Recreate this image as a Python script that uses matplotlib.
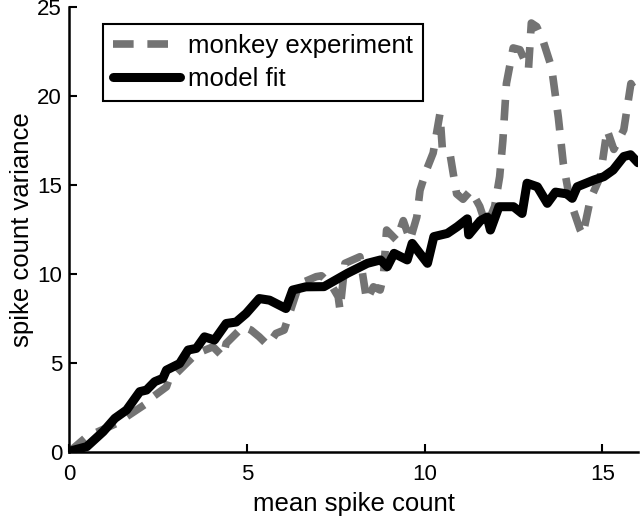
import matplotlib
matplotlib.use('Agg')
import matplotlib.pyplot as plt

# monkey experiment (gray dashed)
exp_x = [0, 0.5, 1.34, 2.18, 2.36, 2.74, 2.85, 3.02, 3.49, 3.67, 4.05, 4.33, 4.42,
         4.7, 4.89, 5.12, 5.35, 5.59, 5.82, 6.05, 6.2, 6.48, 6.66, 6.95, 7.1, 7.4,
         7.57, 7.62, 7.76, 8.18, 8.37, 8.56, 8.75, 8.84, 8.93, 9.21, 9.4, 9.59,
         9.78, 9.87, 10.05, 10.24, 10.43, 10.5, 10.71, 10.8, 10.9, 11.08, 11.3,
         11.55, 11.74, 11.97, 12.11, 12.2, 12.3, 12.49, 12.68, 12.92, 13.0, 13.15,
         13.33, 13.57, 13.76, 13.9, 14.08, 14.37, 14.45, 14.66, 14.94, 15.13,
         15.32, 15.6, 15.8, 16.0]
exp_y = [0, 0.86, 1.61, 2.73, 3.1, 3.66, 4.3, 4.42, 5.35, 5.6, 5.91, 5.35, 6.1,
         6.66, 7.04, 6.85, 6.47, 6.0, 6.66, 6.85, 7.78, 9.47, 9.6, 9.85, 9.9, 9.3,
         8.72, 7.98, 10.6, 10.97, 8.53, 9.28, 9.1, 9.85, 12.47, 11.9, 13.0, 11.9,
         13.2, 14.7, 15.84, 16.8, 19.0, 17.0, 16.8, 15.7, 14.5, 14.2, 14.7,
         13.8, 12.66, 13.8, 15.47, 17.5, 20.7, 22.7, 22.6, 21.5, 24.1, 23.9,
         23.1, 21.6, 18.8, 16.2, 14.2, 12.5, 12.2, 14.2, 15.47, 18.1,
         17.0, 18.1, 20.7, 20.0]

# model fit (black)
fit_x = [0, 0.12, 0.5, 0.96, 1.29, 1.62, 1.99, 2.18, 2.41, 2.64, 2.74, 3.11, 3.35,
         3.58, 3.81, 4.09, 4.42, 4.7, 4.98, 5.35, 5.64, 6.1, 6.29, 6.66, 7.17,
         7.83, 8.39, 8.76, 8.95, 9.14, 9.51, 9.65, 10.08, 10.26, 10.64, 10.92,
         11.2, 11.24, 11.57, 11.76, 11.85, 12.09, 12.5, 12.74, 12.88, 13.17, 13.45,
         13.68, 14.0, 14.15, 14.29, 14.76, 15.04, 15.3, 15.6, 15.79, 16.0]
fit_y = [0, 0.1, 0.3, 1.14, 1.89, 2.36, 3.39, 3.48, 3.95, 4.14, 4.6, 4.97, 5.73,
         5.82, 6.47, 6.29, 7.22, 7.3, 7.78, 8.62, 8.53, 8.06, 9.1, 9.28, 9.29,
         10.04, 10.6, 10.79, 10.41, 11.16, 10.79, 11.72, 10.6, 12.1, 12.28, 12.66,
         13.1, 12.2, 13.0, 13.2, 12.47, 13.78, 13.78, 13.4, 15.1, 14.9, 13.97,
         14.6, 14.5, 14.25, 14.9, 15.28, 15.47, 15.84, 16.6, 16.7, 16.25]

plt.rcParams['font.family'] = ['Liberation Sans', 'DejaVu Sans']

fig = plt.figure(figsize=(6.4, 5.17), dpi=100)
ax = fig.add_axes([69/640., 65/517., 569/640., 445/517.])

ax.plot(exp_x, exp_y, color='#737373', lw=5.5, dashes=(2.7, 1.8),
        dash_capstyle='butt', solid_joinstyle='round', label='monkey experiment')
ax.plot(fit_x, fit_y, color='black', lw=6.5, solid_joinstyle='round',
        solid_capstyle='round', label='model fit')

ax.set_xlim(0, 16)
ax.set_ylim(0, 25)
ax.set_xticks([0, 5, 10, 15])
ax.set_yticks([0, 5, 10, 15, 20, 25])
ax.tick_params(direction='in', length=6, width=1.5, labelsize=16)
ax.tick_params(axis='x', pad=8.5)
ax.tick_params(axis='y', pad=5)
for s in ['top', 'right']:
    ax.spines[s].set_visible(False)
for s in ['left', 'bottom']:
    ax.spines[s].set_linewidth(1.8)

ax.set_xlabel('mean spike count', fontsize=18.5, labelpad=5)
ax.set_ylabel('spike count variance', fontsize=18.5, labelpad=2)

leg = ax.legend(loc='upper left', bbox_to_anchor=(0.06, 0.962), fontsize=18.5,
                fancybox=False, framealpha=1, edgecolor='black', borderaxespad=0,
                handlelength=2.6, handletextpad=0.3, labelspacing=0.35,
                borderpad=0.4)
leg.get_frame().set_linewidth(1.5)

fig.savefig('out.png', dpi=100)
